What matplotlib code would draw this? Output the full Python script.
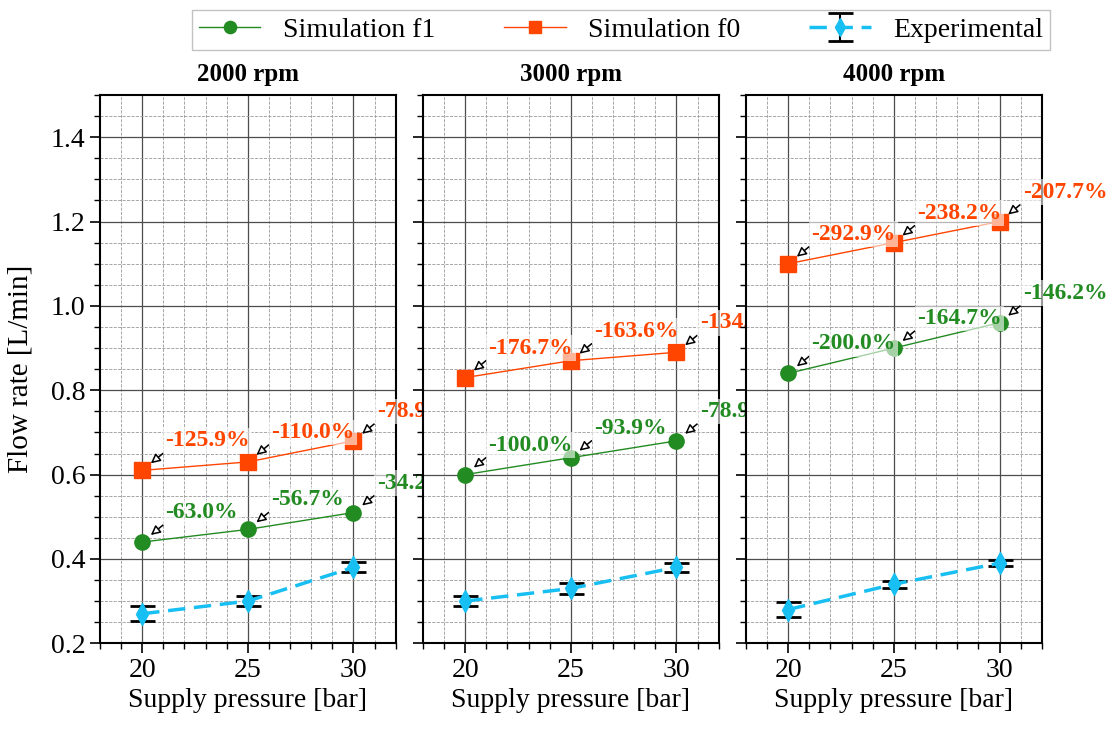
import matplotlib
matplotlib.use('Agg')
import matplotlib.pyplot as plt
from matplotlib.ticker import MultipleLocator

plt.rcParams['font.family'] = ['Liberation Serif', 'DejaVu Serif']

# data
pressure = [20, 25, 30]
speeds = ['2000 rpm', '3000 rpm', '4000 rpm']
sim_f1 = [[0.44, 0.47, 0.51],
          [0.60, 0.64, 0.68],
          [0.84, 0.90, 0.96]]
sim_f0 = [[0.61, 0.63, 0.68],
          [0.83, 0.87, 0.89],
          [1.10, 1.15, 1.20]]
exp_mean = [[0.27, 0.30, 0.38],
            [0.30, 0.33, 0.38],
            [0.28, 0.34, 0.39]]
exp_err = [[0.018, 0.012, 0.012],
           [0.012, 0.013, 0.011],
           [0.018, 0.008, 0.007]]

c_f1 = '#228B22'
c_f0 = '#FF4500'
c_exp = '#18BFF2'

fig, axes = plt.subplots(1, 3, figsize=(11.13, 7.31), dpi=100, sharey=True)
fig.subplots_adjust(left=0.0898, right=0.936, bottom=0.12, top=0.87, wspace=0.092)


def label_points(ax, sim, exp, color):
    # relative error of simulation vs experiment
    for x, s, e in zip(pressure, sim, exp):
        pct = (e - s) / e * 100
        ax.annotate(f"{pct:.1f}%", xy=(x, s), xytext=(x + 1.1, s + 0.045),
                    color=color, fontsize=17, fontweight='bold',
                    ha='left', va='bottom', zorder=6,
                    bbox=dict(boxstyle='square,pad=0.1', fc='white', ec='none', alpha=0.6),
                    arrowprops=dict(arrowstyle='-|>', fc='white', ec='black', lw=1.1,
                                    relpos=(0, 0), shrinkA=0, shrinkB=8,
                                    mutation_scale=14))


for i, ax in enumerate(axes):
    l1, = ax.plot(pressure, sim_f1[i], '-o', color=c_f1, lw=1, ms=11, label='Simulation f1', zorder=4)
    l0, = ax.plot(pressure, sim_f0[i], '-s', color=c_f0, lw=1, ms=11, label='Simulation f0', zorder=4)
    le = ax.errorbar(pressure, exp_mean[i], yerr=exp_err[i], fmt='--d', color=c_exp, lw=2.5, ms=11,
                     dashes=(5, 2.5), ecolor='black', elinewidth=1.5, capsize=9, capthick=2,
                     label='Experimental', zorder=3)
    label_points(ax, sim_f1[i], exp_mean[i], c_f1)
    label_points(ax, sim_f0[i], exp_mean[i], c_f0)

    ax.set_title(speeds[i], fontsize=18, fontweight='bold', pad=10)
    ax.set_xlim(18, 32)
    ax.set_ylim(0.2, 1.5)
    ax.xaxis.set_major_locator(MultipleLocator(5))
    ax.xaxis.set_minor_locator(MultipleLocator(1))
    ax.yaxis.set_major_locator(MultipleLocator(0.2))
    ax.yaxis.set_minor_locator(MultipleLocator(0.05))
    ax.grid(which='major', color='0.3', lw=0.9)
    ax.grid(which='minor', color='0.6', ls='--', lw=0.6)
    ax.set_axisbelow(True)
    ax.tick_params(which='major', direction='out', length=7, width=1.2, labelsize=20)
    ax.tick_params(which='minor', direction='out', length=4, width=1)
    for sp in ax.spines.values():
        sp.set_linewidth(1.5)
    ax.set_xlabel('Supply pressure [bar]', fontsize=20)

axes[0].set_ylabel('Flow rate [L/min]', fontsize=21, labelpad=12)

fig.legend([l1, l0, le], ['Simulation f1', 'Simulation f0', 'Experimental'],
           loc='upper center', bbox_to_anchor=(0.558, 1.005), ncol=3, fontsize=20,
           frameon=True, edgecolor='0.7', fancybox=False, columnspacing=2.5,
           handlelength=2.2, handletextpad=0.8, borderpad=0.25, markerscale=0.8)

fig.savefig('out.png', dpi=100)
